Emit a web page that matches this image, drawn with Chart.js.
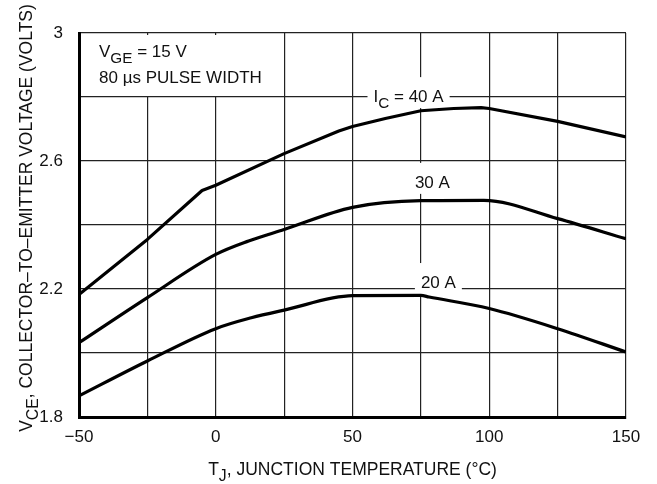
<!DOCTYPE html>
<html>
<head>
<meta charset="utf-8">
<script src="https://cdn.jsdelivr.net/npm/chart.js@4.4.1/dist/chart.umd.min.js"></script>
<style>
  html, body { margin: 0; padding: 0; background: #fff; }
</style>
</head>
<body>
<canvas id="vceChart" width="657" height="484"></canvas>
<script>
const FONT = '"Liberation Sans", Arial, Helvetica, sans-serif';

/* -----------------------------
   Data
------------------------------ */

const temp40 = [-50, -25, -5, 0, 25, 45, 50, 62, 75, 87, 97, 100, 125, 150];
const vce40 = [2.183, 2.355, 2.508, 2.524, 2.623, 2.694, 2.708, 2.733, 2.757, 2.764, 2.767, 2.764, 2.724, 2.675];

const temp30 = [-50, -25, 0, 12, 25, 50, 75, 98, 125, 150];
const vce30 = [2.032, 2.173, 2.308, 2.35, 2.386, 2.455, 2.476, 2.477, 2.42, 2.357];

const temp20 = [-50, -25, 0, 13, 25, 50, 75, 78, 100, 125, 150];
const vce20 = [1.866, 1.975, 2.076, 2.11, 2.134, 2.179, 2.18, 2.175, 2.139, 2.076, 2.003];

const xTickValues = [-50, -25, 0, 25, 50, 75, 100, 125, 150];
const xTickLabels = ['\u221250', '', '0', '', '50', '', '100', '', '150'];
const yTickValues = [1.8, 2.0, 2.2, 2.4, 2.6, 2.8, 3.0];
const yTickLabels = ['1.8', '', '2.2', '', '2.6', '', '3'];

// curve labels: text parts + anchor (temperature, volts) of the text baseline centre
const curveLabels = [
  { parts: [{ t: 'I' }, { t: 'C', sub: true }, { t: ' = 40 A' }], x: 70.5, y: 2.784 },
  { parts: [{ t: '30 A' }], x: 79.2, y: 2.516 },
  { parts: [{ t: '20 A' }], x: 81.4, y: 2.203 },
];

const conditionLines = [
  [{ t: 'V' }, { t: 'GE', sub: true }, { t: ' = 15 V' }],
  [{ t: '80 \u00b5s PULSE WIDTH' }],
];

const toPoints = (xs, ys) => xs.map((x, i) => ({ x, y: ys[i] }));

/* -----------------------------
   Text helpers (subscripts)
------------------------------ */

function richWidth(ctx, parts, size) {
  let w = 0;
  parts.forEach((p) => {
    ctx.font = `${p.sub ? size * 0.9 : size}px ${FONT}`;
    w += ctx.measureText(p.t).width;
  });
  return w;
}

function drawRich(ctx, parts, x, y, size) {
  ctx.textAlign = 'left';
  ctx.textBaseline = 'alphabetic';
  parts.forEach((p) => {
    ctx.font = `${p.sub ? size * 0.9 : size}px ${FONT}`;
    ctx.fillText(p.t, x, y + (p.sub ? size * 0.35 : 0));
    x += ctx.measureText(p.t).width;
  });
}

const annotations = {
  id: 'annotations',
  beforeDatasetsDraw(chart) {
    const { ctx, chartArea, scales } = chart;
    ctx.save();
    ctx.fillStyle = '#fff';
    // condition box, top left
    ctx.fillRect(chartArea.left + 2, chartArea.top + 2, 190, 61);
    ctx.fillStyle = '#111';
    drawRich(ctx, conditionLines[0], chartArea.left + 20, chartArea.top + 24, 17);
    drawRich(ctx, conditionLines[1], chartArea.left + 20, chartArea.top + 50, 17);

    curveLabels.forEach((lbl) => {
      const w = richWidth(ctx, lbl.parts, 17);
      const cx = scales.x.getPixelForValue(lbl.x);
      const by = scales.y.getPixelForValue(lbl.y);
      ctx.fillStyle = '#fff';
      ctx.fillRect(cx - w / 2 - 6, by - 25, w + 12, 31);
      ctx.fillStyle = '#111';
      drawRich(ctx, lbl.parts, cx - w / 2, by, 17);
    });
    ctx.restore();
  },
  afterDraw(chart) {
    const { ctx, chartArea } = chart;
    ctx.save();
    ctx.fillStyle = '#111';
    // x axis title
    const xt = [{ t: 'T' }, { t: 'J', sub: true }, { t: ', JUNCTION TEMPERATURE (\u00b0C)' }];
    const xw = richWidth(ctx, xt, 17.5);
    drawRich(ctx, xt, (chartArea.left + chartArea.right) / 2 - xw / 2, 475, 17.5);
    // y axis title
    const yt = [{ t: 'V' }, { t: 'CE', sub: true }, { t: ', COLLECTOR\u2013TO\u2013EMITTER VOLTAGE (VOLTS)' }];
    const yw = richWidth(ctx, yt, 17.5);
    ctx.translate(32, 218);
    ctx.rotate(-Math.PI / 2);
    drawRich(ctx, yt, -yw / 2, 0, 17.5);
    ctx.restore();
  },
};

const curveStyle = {
  borderColor: '#000',
  borderWidth: 3.2,
  borderJoinStyle: 'round',
  pointRadius: 0,
  fill: false,
};

new Chart(document.getElementById('vceChart'), {
  type: 'line',
  data: {
    datasets: [
      { label: 'IC = 40 A', data: toPoints(temp40, vce40), ...curveStyle, tension: 0 },
      { label: '30 A', data: toPoints(temp30, vce30), ...curveStyle, cubicInterpolationMode: 'monotone' },
      { label: '20 A', data: toPoints(temp20, vce20), ...curveStyle, cubicInterpolationMode: 'monotone' },
    ],
  },
  options: {
    responsive: false,
    animation: false,
    devicePixelRatio: 1,
    layout: { padding: { top: 33, right: 31, left: 0, bottom: 0 } },
    plugins: { legend: { display: false }, tooltip: { enabled: false } },
    scales: {
      x: {
        type: 'linear',
        min: -50,
        max: 150,
        afterBuildTicks: (s) => { s.ticks = xTickValues.map((v) => ({ value: v })); },
        afterFit: (s) => { s.height = 67; },
        grid: { color: '#222', lineWidth: 1.2, drawTicks: false },
        border: { color: '#000', width: 3 },
        ticks: {
          padding: 10,
          color: '#111',
          font: { family: FONT, size: 17 },
          maxRotation: 0,
          autoSkip: false,
          callback: (v, i) => xTickLabels[i],
        },
      },
      y: {
        type: 'linear',
        min: 1.8,
        max: 3.0,
        afterBuildTicks: (s) => { s.ticks = yTickValues.map((v) => ({ value: v })); },
        afterFit: (s) => { s.width = 79; },
        grid: { color: '#222', lineWidth: 1.2, drawTicks: false },
        border: { color: '#000', width: 3 },
        ticks: {
          padding: 16,
          color: '#111',
          font: { family: FONT, size: 17 },
          autoSkip: false,
          callback: (v, i) => yTickLabels[i],
        },
      },
    },
  },
  plugins: [annotations],
});
</script>
</body>
</html>
